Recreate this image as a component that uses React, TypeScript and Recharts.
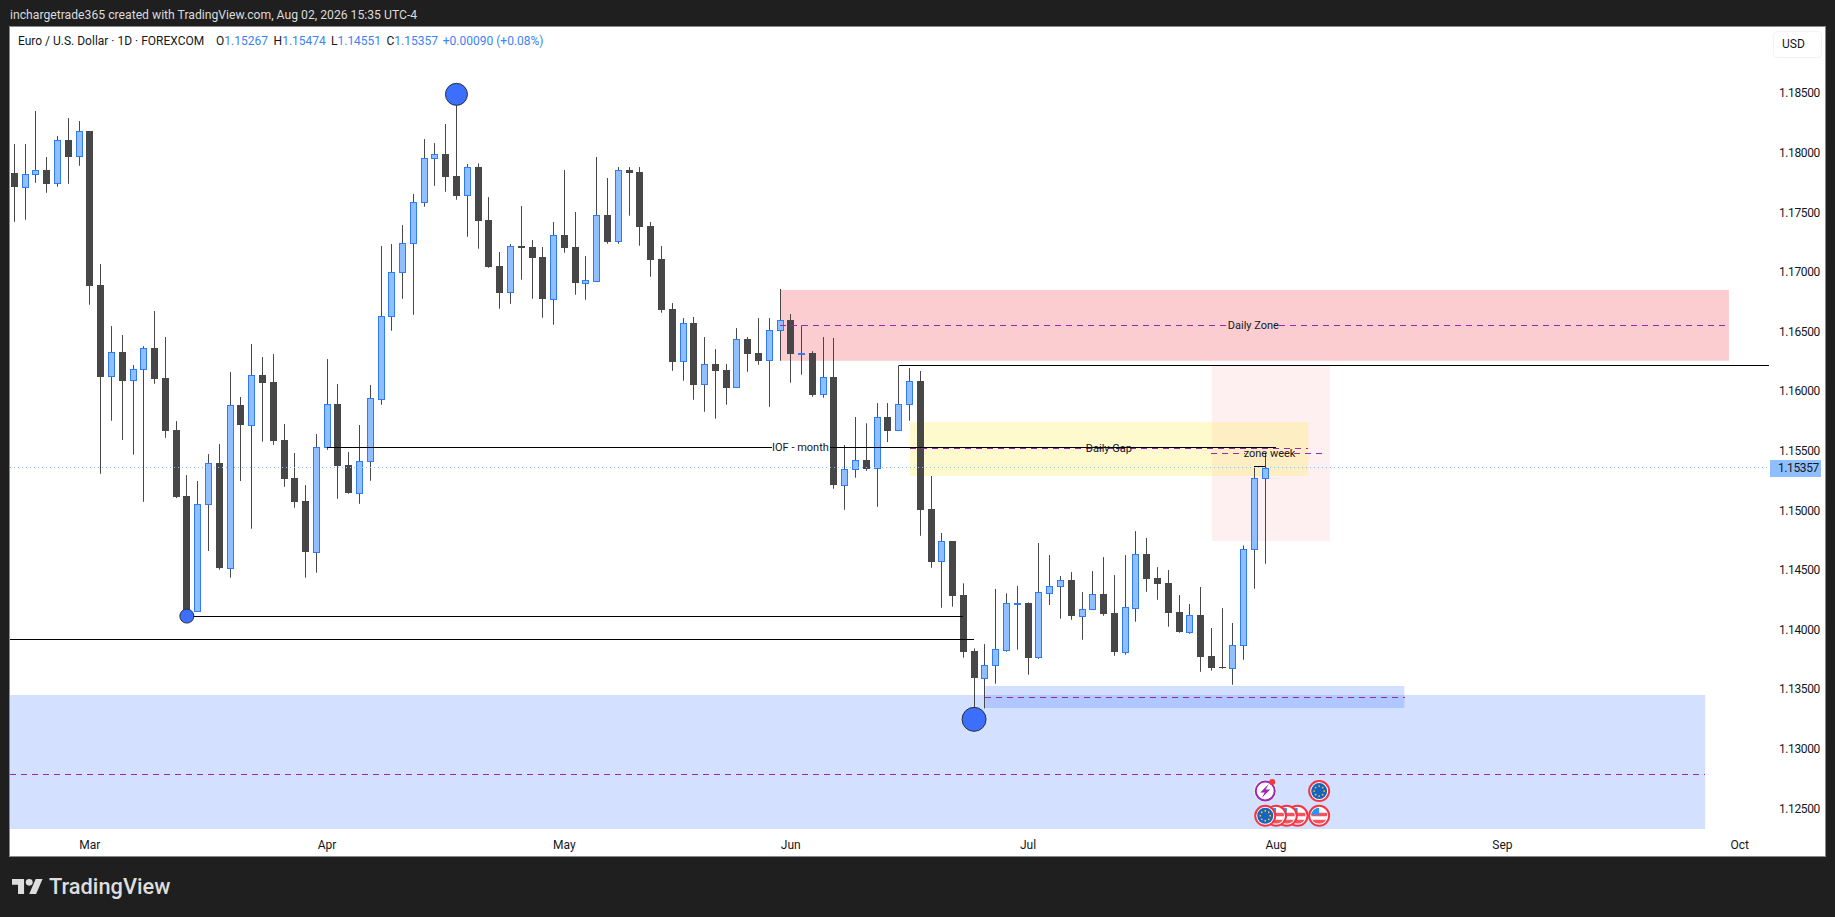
import {
  Bar,
  ComposedChart,
  ReferenceArea,
  ReferenceDot,
  ReferenceLine,
  XAxis,
  YAxis,
} from "recharts"

const opens = [
  1.17829, 1.17714, 1.17818, 1.17854, 1.17742, 1.18106, 1.17969, 1.18181, 1.16889, 1.16123,
  1.16327, 1.1609, 1.16182, 1.16361, 1.16109, 1.15673, 1.15119, 1.14157, 1.15049, 1.15396,
  1.14518, 1.15882, 1.15717, 1.16134, 1.16075, 1.15589, 1.1527, 1.15077, 1.14652, 1.15528,
  1.15891, 1.15379, 1.15147, 1.1541, 1.15935, 1.16627, 1.16996, 1.17239, 1.17583, 1.17952,
  1.17988, 1.17804, 1.17642, 1.17879, 1.17434, 1.17049, 1.16828, 1.17214, 1.17208, 1.17124,
  1.16774, 1.17309, 1.17208, 1.16908, 1.16925, 1.17476, 1.17256, 1.17854, 1.17837, 1.17384,
  1.17107, 1.16688, 1.16249, 1.1657, 1.16056, 1.16226, 1.16176, 1.16031, 1.16436, 1.16319,
  1.16257, 1.16509, 1.16596, 1.16313, 1.16319, 1.15972, 1.16117, 1.15214, 1.15343, 1.15421,
  1.15351, 1.15782, 1.1567, 1.15888, 1.16084, 1.1501, 1.14571, 1.14742, 1.14288, 1.13819,
  1.13595, 1.13699, 1.1383, 1.14219, 1.14222, 1.13766, 1.14308, 1.14362, 1.14414, 1.14115,
  1.14169, 1.14297, 1.14138, 1.13813, 1.14182, 1.14632, 1.14431, 1.14389, 1.14146, 1.13981,
  1.14121, 1.13777, 1.13682, 1.13679, 1.13867, 1.14672, 1.15267,
]
const highs = [
  1.18072, 1.18072, 1.18349, 1.17963, 1.18139, 1.1829, 1.18265, 1.18181, 1.17065, 1.16545,
  1.1647, 1.16218, 1.16377, 1.16671, 1.16453, 1.15748, 1.15295, 1.15245, 1.15471, 1.15555,
  1.16159, 1.1595, 1.16394, 1.16285, 1.1631, 1.15723, 1.1548, 1.15211, 1.15639, 1.16268,
  1.16059, 1.15488, 1.15715, 1.1605, 1.17216, 1.17233, 1.17392, 1.17653, 1.18114, 1.1808,
  1.1824, 1.18491, 1.17904, 1.1791, 1.17627, 1.17166, 1.17233, 1.17552, 1.17267, 1.17208,
  1.17418, 1.17854, 1.17502, 1.17132, 1.17963, 1.17787, 1.17879, 1.17879, 1.17879, 1.17418,
  1.17216, 1.16738, 1.16612, 1.16621, 1.16453, 1.16352, 1.16226, 1.16528, 1.16453, 1.16612,
  1.16612, 1.16856, 1.16646, 1.16551, 1.16335, 1.16453, 1.16445, 1.15547, 1.15782, 1.15729,
  1.15899, 1.15899, 1.16215, 1.16193, 1.16168, 1.15287, 1.14809, 1.14742, 1.14387, 1.13841,
  1.13877, 1.14339, 1.14303, 1.14364, 1.14227, 1.14725, 1.14624, 1.14448, 1.14481, 1.14314,
  1.1449, 1.14607, 1.14456, 1.14624, 1.14825, 1.14767, 1.14523, 1.14498, 1.14289, 1.14213,
  1.14356, 1.14012, 1.14179, 1.14054, 1.14705, 1.15365, 1.15474,
]
const lows = [
  1.1742, 1.17437, 1.17747, 1.17663, 1.17714, 1.17739, 1.1789, 1.16724, 1.15306, 1.15751,
  1.15589, 1.15466, 1.15071, 1.16061, 1.15608, 1.15102, 1.14104, 1.14148, 1.14658, 1.14501,
  1.14434, 1.15245, 1.14845, 1.15575, 1.15549, 1.15197, 1.15021, 1.14434, 1.14476, 1.15507,
  1.15096, 1.15138, 1.15054, 1.15247, 1.15885, 1.16506, 1.16774, 1.1664, 1.17546, 1.17722,
  1.17672, 1.17605, 1.17294, 1.17194, 1.17034, 1.1669, 1.16732, 1.16934, 1.16774, 1.16615,
  1.16556, 1.1716, 1.16808, 1.16766, 1.16917, 1.17236, 1.17236, 1.17471, 1.17219, 1.16959,
  1.16657, 1.1617, 1.16086, 1.15927, 1.15826, 1.15768, 1.15885, 1.16028, 1.16162, 1.16221,
  1.15868, 1.16254, 1.1607, 1.16137, 1.15952, 1.15944, 1.1518, 1.15004, 1.15273, 1.15331,
  1.15029, 1.15572, 1.15664, 1.15751, 1.14786, 1.14518, 1.14182, 1.14191, 1.13763, 1.13254,
  1.13338, 1.13545, 1.13813, 1.1383, 1.1362, 1.13754, 1.14205, 1.1409, 1.14081, 1.13914,
  1.14169, 1.14115, 1.13779, 1.13788, 1.14065, 1.14316, 1.14249, 1.14023, 1.13972, 1.13964,
  1.13645, 1.13654, 1.1367, 1.13536, 1.13746, 1.14341, 1.14551,
]
const closes = [
  1.17714, 1.17818, 1.17851, 1.17739, 1.18103, 1.17965, 1.18179, 1.16883, 1.1612, 1.16325,
  1.16086, 1.16182, 1.16358, 1.16103, 1.15667, 1.15111, 1.14137, 1.15049, 1.15393, 1.14518,
  1.1588, 1.15717, 1.16132, 1.1607, 1.15583, 1.15264, 1.15071, 1.14652, 1.15528, 1.15888,
  1.15373, 1.15147, 1.1541, 1.15939, 1.16627, 1.16996, 1.17239, 1.17583, 1.17952, 1.17986,
  1.17798, 1.17638, 1.17877, 1.17429, 1.17043, 1.16825, 1.17214, 1.17202, 1.17118, 1.16774,
  1.17306, 1.17202, 1.16908, 1.16929, 1.17474, 1.17252, 1.17851, 1.17831, 1.17378, 1.17101,
  1.16679, 1.16246, 1.16568, 1.16053, 1.16224, 1.1617, 1.16028, 1.16434, 1.16313, 1.16254,
  1.16509, 1.16593, 1.16313, 1.16318, 1.15966, 1.16115, 1.15214, 1.15343, 1.15418, 1.15348,
  1.15779, 1.15667, 1.15888, 1.16081, 1.15004, 1.14568, 1.14739, 1.14283, 1.13813, 1.13595,
  1.13699, 1.13833, 1.14219, 1.14222, 1.13763, 1.14311, 1.14362, 1.14412, 1.14115, 1.14169,
  1.14294, 1.14132, 1.13813, 1.14185, 1.1463, 1.14425, 1.14383, 1.1414, 1.13981, 1.14118,
  1.13771, 1.13679, 1.13676, 1.13867, 1.14672, 1.15267, 1.15357,
]

const priceTicks = [1.125, 1.13, 1.135, 1.14, 1.145, 1.15, 1.155, 1.16, 1.165, 1.17, 1.175, 1.18, 1.185]
const monthTicks = [7, 29, 51, 72, 94, 117, 138, 160]
const monthLabels = ["Mar", "Apr", "May", "Jun", "Jul", "Aug", "Sep", "Oct"]

const lastPrice = 1.15357
const xDomain = [-0.4, 162.9]
const yDomain = [1.12326, 1.19054]

const candles = opens.map((open, i) => ({
  idx: i,
  open,
  high: highs[i],
  low: lows[i],
  close: closes[i],
}))

// [x1, x2, top, bottom, color, opacity]
const zones: [number, number, number, number, string, number][] = [
  [111.05, 122, 1.16212, 1.14742, "#f23645", 0.08],
  [83.05, 120, 1.1574, 1.15287, "#ffeb3b", 0.25],
  [71.03, 159, 1.16847, 1.16254, "#f23645", 0.25],
  [-0.4, 156.8, 1.1345, yDomain[0], "#2962ff", 0.2],
  [90.04, 128.9, 1.13525, 1.13341, "#2962ff", 0.2],
]

// [x1, x2, price]
const blackLines = [
  [82, 162.7, 1.16218],
  [29, 70.3, 1.15528],
  [75.6, 117, 1.15528],
  [16, 88, 1.14112],
  [-0.4, 89, 1.13917],
  [115, 116, 1.15365],
]
const dashLines = [
  [71, 112.5, 1.16554],
  [117.3, 159, 1.16554],
  [83.05, 120, 1.15519],
  [111, 114.1, 1.15477],
  [118.7, 121.7, 1.15477],
  [90, 129, 1.1343],
  [-0.4, 156.8, 1.12784],
]
// [x, price, radius]
const pivots = [
  [41, 1.18489, 11],
  [16, 1.14112, 7],
  [89, 1.13246, 12],
]
const notes: [number, number, string][] = [
  [114.9, 1.16554, "Daily Zone"],
  [101.5, 1.15519, "Daily Gap"],
  [116.4, 1.15477, "zone week"],
  [72.9, 1.15528, "IOF - month"],
]
const events: [number, number, string][] = [
  [119, 1.12437, "us"],
  [118, 1.12437, "us"],
  [117, 1.12437, "us"],
  [116, 1.12437, "eu"],
  [121, 1.12437, "us"],
  [116, 1.12644, "bolt"],
  [121, 1.12644, "eu"],
]

function Candle(props: any) {
  const { x, y, width, height, payload } = props
  const { open, close, high, low } = payload
  const perUnit = height / (high - low)
  const up = close >= open
  const cx = Math.floor(x + width / 2) + 0.5
  const top = Math.round(y + (high - Math.max(open, close)) * perUnit)
  const bottom = Math.round(y + (high - Math.min(open, close)) * perUnit)
  const h = Math.max(bottom - top, 1)
  return (
    <g>
      <line x1={cx} x2={cx} y1={y} y2={y + height} stroke="#474747" strokeWidth={1} />
      {up ? (
        <rect x={cx - 3} y={top + 0.5} width={6} height={h} fill="#90bfff" stroke="#2f7cf6" strokeWidth={1} />
      ) : (
        <rect x={cx - 3.5} y={top} width={7} height={h} fill="#474747" />
      )}
    </g>
  )
}

function EventIcon(props: any) {
  const { cx, cy, kind, id } = props
  if (kind === "bolt") {
    return (
      <g>
        <circle cx={cx} cy={cy} r={11} fill="#fff" />
        <circle cx={cx} cy={cy} r={9.5} fill="#fff" stroke="#9c27b0" strokeWidth={2} />
        <path
          d={`M${cx + 3.5} ${cy - 7} L${cx - 5} ${cy + 1.5} L${cx - 0.5} ${cy + 1.5} L${cx - 3.5} ${cy + 7} L${cx + 5} ${cy - 1.5} L${cx + 0.5} ${cy - 1.5} Z`}
          fill="#9c27b0"
        />
        <circle cx={cx + 7} cy={cy - 9} r={3} fill="#f23645" />
      </g>
    )
  }
  if (kind === "eu") {
    const stars = [0, 45, 90, 135, 180, 225, 270, 315]
    return (
      <g>
        <circle cx={cx} cy={cy} r={10} fill="#fff" stroke="#f23645" strokeWidth={2} />
        <circle cx={cx} cy={cy} r={8} fill="#1565c0" />
        {stars.map((a) => (
          <circle
            key={a}
            cx={cx + 5 * Math.cos((a * Math.PI) / 180)}
            cy={cy + 5 * Math.sin((a * Math.PI) / 180)}
            r={0.9}
            fill="#fbc02d"
          />
        ))}
      </g>
    )
  }
  return (
    <g>
      <clipPath id={id}>
        <circle cx={cx} cy={cy} r={8} />
      </clipPath>
      <circle cx={cx} cy={cy} r={10} fill="#fff" stroke="#f23645" strokeWidth={2} />
      <g clipPath={`url(#${id})`}>
        <rect x={cx - 8} y={cy - 8} width={16} height={16} fill="#fff" />
        <rect x={cx - 8} y={cy - 3} width={16} height={3.5} fill="#f7525f" />
        <rect x={cx - 8} y={cy + 4} width={16} height={4} fill="#f7525f" />
        <rect x={cx - 8} y={cy - 8} width={8} height={7} fill="#2196f3" />
      </g>
    </g>
  )
}

function Legend() {
  const base = { position: "absolute", top: 33, fontSize: 12, lineHeight: "17px", whiteSpace: "nowrap" } as const
  const blue = { color: "#3d82f5" }
  const items: [number, string, string][] = [
    [216, "O", "1.15267"],
    [273.6, "H", "1.15474"],
    [331, "L", "1.14551"],
    [386.5, "C", "1.15357"],
  ]
  return (
    <>
      <div style={{ ...base, left: 18, color: "#131722" }}>Euro / U.S. Dollar · 1D · FOREXCOM</div>
      {items.map(([left, k, v]) => (
        <div key={k} style={{ ...base, left, color: "#131722" }}>
          {k}
          <span style={blue}>{v}</span>
        </div>
      ))}
      <div style={{ ...base, left: 442.8, ...blue }}>+0.00090 (+0.08%)</div>
    </>
  )
}

export default function App() {
  return (
    <div
      style={{
        position: "absolute",
        left: 0,
        top: 0,
        width: 1835,
        height: 917,
        background: "#1f1f1f",
        overflow: "hidden",
        fontFamily: "Roboto, sans-serif",
      }}
    >
      <div style={{ position: "absolute", left: 10, top: 6, color: "#dadada", fontSize: 12.2, lineHeight: "18px", whiteSpace: "nowrap" }}>
        inchargetrade365 created with TradingView.com, Aug 02, 2026 15:35 UTC-4
      </div>
      <div
        style={{
          position: "absolute",
          left: 10,
          top: 27,
          width: 1815,
          height: 829,
          background: "#fff",
          boxShadow: "0 0 0 1px #8a8a8a",
        }}
      />
      <div style={{ position: "absolute", left: 0, top: 0 }}>
        <ComposedChart
          width={1835}
          height={917}
          data={candles}
          margin={{ top: 27, right: 10, bottom: 61, left: 10 }}
        >
          <XAxis
            dataKey="idx"
            type="number"
            domain={xDomain}
            allowDataOverflow
            ticks={monthTicks}
            interval={0}
            height={27}
            axisLine={false}
            tickLine={false}
            tickMargin={5}
            tick={{ fontSize: 12, fill: "#131722" }}
            tickFormatter={(v) => monthLabels[monthTicks.indexOf(v)]}
          />
          <YAxis
            orientation="right"
            width={54}
            domain={yDomain}
            allowDataOverflow
            ticks={priceTicks}
            interval={0}
            axisLine={false}
            tickLine={false}
            tickSize={0}
            tickMargin={8}
            tick={{ fontSize: 12, fill: "#131722", letterSpacing: -0.4 }}
            tickFormatter={(v) => Number(v).toFixed(5)}
          />
          {zones.map(([x1, x2, y1, y2, color, opacity], i) => (
            <ReferenceArea
              key={`zone-${i}`}
              x1={x1}
              x2={x2}
              y1={y1}
              y2={y2}
              fill={color}
              fillOpacity={opacity}
              stroke="none"
            />
          ))}
          <ReferenceLine y={lastPrice} stroke="#90bfff" strokeDasharray="1 3" shapeRendering="crispEdges" />
          {pivots.map(([x, y, r], i) => (
            <ReferenceDot key={`pivot-${i}`} x={x} y={y} r={r} fill="#3d6fff" stroke="#2a2e39" strokeWidth={1} />
          ))}
          <Bar
            dataKey={(d: any) => [d.low, d.high]}
            barSize={7}
            isAnimationActive={false}
            shape={<Candle />}
          />
          {blackLines.map(([x1, x2, y], i) => (
            <ReferenceLine
              key={`black-${i}`}
              segment={[
                { x: x1, y },
                { x: x2, y },
              ]}
              stroke="#000"
              strokeWidth={1}
              shapeRendering="crispEdges"
            />
          ))}
          {dashLines.map(([x1, x2, y], i) => (
            <ReferenceLine
              key={`dash-${i}`}
              segment={[
                { x: x1, y },
                { x: x2, y },
              ]}
              stroke="#9c27b0"
              strokeWidth={1}
              strokeDasharray="6 5"
              shapeRendering="crispEdges"
            />
          ))}
          {notes.map(([x, y, text]) => (
            <ReferenceDot
              key={text}
              x={x}
              y={y}
              r={0}
              stroke="none"
              label={{ value: text, position: "center", fontSize: 11, fill: "#131722" }}
            />
          ))}
          {events.map(([x, y, kind], i) => (
            <ReferenceDot
              key={`event-${i}`}
              x={x}
              y={y}
              r={10}
              shape={(p: any) => <EventIcon {...p} kind={kind} id={`flag-${i}`} />}
            />
          ))}
        </ComposedChart>
      </div>
      <Legend />
      <div
        style={{
          position: "absolute",
          left: 1773,
          top: 31,
          width: 39,
          height: 25,
          border: "1px solid #f0f3fa",
          borderRadius: 4,
          color: "#131722",
          fontSize: 12,
          lineHeight: "25px",
          paddingLeft: 8,
        }}
      >
        USD
      </div>
      <div
        style={{
          position: "absolute",
          left: 1770,
          top: 460,
          width: 43,
          paddingLeft: 8,
          height: 17,
          background: "#90bfff",
          color: "#131722",
          fontSize: 12,
          lineHeight: "17px",
          letterSpacing: -0.4,
        }}
      >
        1.15357
      </div>
      <svg style={{ position: "absolute", left: 11.5, top: 879, width: 31, height: 15 }} viewBox="0 4 36 18" preserveAspectRatio="none">
        <path d="M14 22H7V11H0V4h14v18zM28 22h-8l7.5-18h8L28 22z" fill="#dedede" />
        <circle cx="20" cy="8" r="4" fill="#dedede" />
      </svg>
      <div style={{ position: "absolute", left: 49, top: 873, color: "#dedede", fontSize: 21.8, fontWeight: 500, lineHeight: "28px", whiteSpace: "nowrap" }}>
        TradingView
      </div>
    </div>
  )
}
